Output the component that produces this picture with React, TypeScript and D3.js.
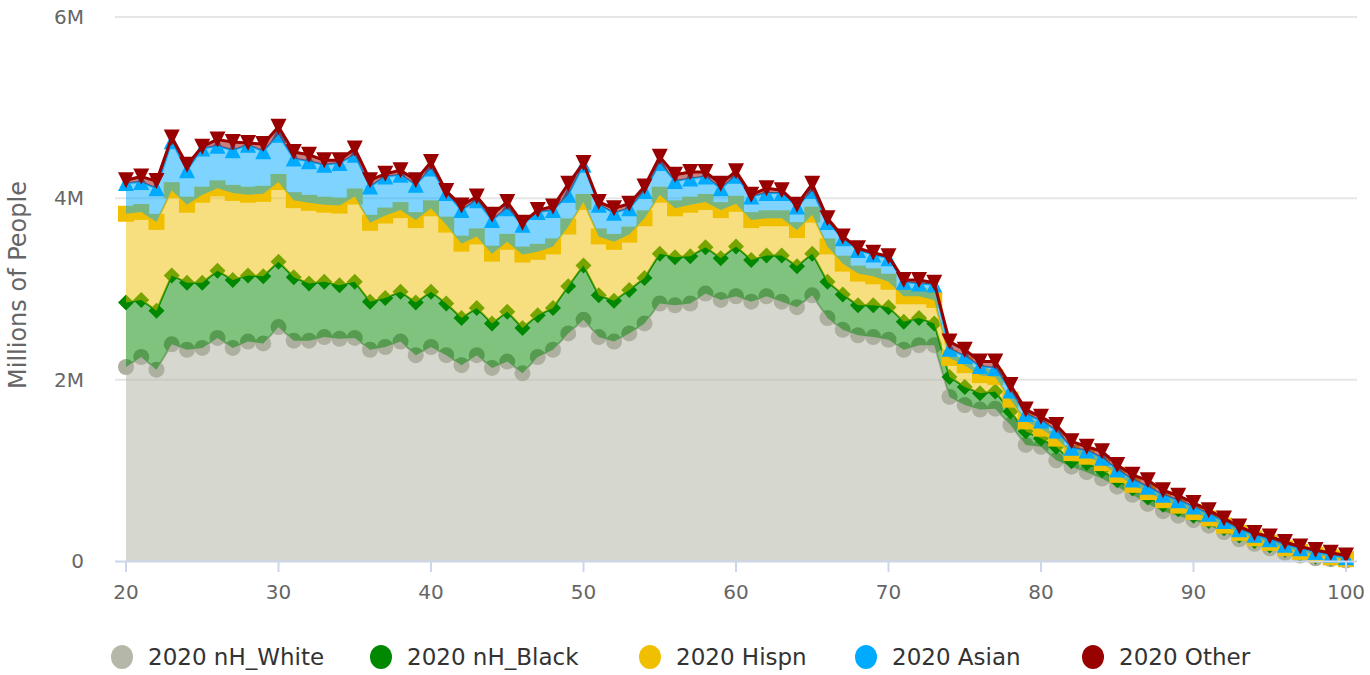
import React from "react";
import * as d3 from "d3";

const ages = [20,21,22,23,24,25,26,27,28,29,30,31,32,33,34,35,36,37,38,39,40,41,42,43,44,45,46,47,48,49,50,51,52,53,54,55,56,57,58,59,60,61,62,63,64,65,66,67,68,69,70,71,72,73,74,75,76,77,78,79,80,81,82,83,84,85,86,87,88,89,90,91,92,93,94,95,96,97,98,99,100];

// values in millions of people
const nhWhite = [2.14,2.25,2.11,2.39,2.33,2.35,2.46,2.35,2.42,2.40,2.58,2.43,2.43,2.47,2.45,2.46,2.33,2.36,2.42,2.27,2.36,2.27,2.16,2.27,2.13,2.20,2.07,2.25,2.33,2.51,2.66,2.47,2.42,2.51,2.62,2.84,2.82,2.84,2.95,2.88,2.92,2.86,2.92,2.86,2.80,2.93,2.68,2.55,2.49,2.47,2.44,2.33,2.38,2.38,1.81,1.72,1.67,1.68,1.50,1.28,1.26,1.11,1.04,0.98,0.91,0.82,0.73,0.63,0.55,0.50,0.45,0.39,0.32,0.24,0.19,0.14,0.09,0.06,0.03,0.02,0.005];
const nhBlack = [0.71,0.63,0.65,0.76,0.74,0.72,0.74,0.75,0.73,0.74,0.72,0.70,0.63,0.61,0.59,0.62,0.53,0.54,0.55,0.58,0.61,0.57,0.52,0.52,0.49,0.55,0.50,0.46,0.46,0.52,0.60,0.46,0.45,0.48,0.50,0.55,0.53,0.52,0.51,0.46,0.55,0.46,0.45,0.51,0.45,0.46,0.40,0.39,0.33,0.35,0.36,0.31,0.30,0.24,0.22,0.20,0.18,0.19,0.15,0.15,0.09,0.15,0.06,0.10,0.09,0.07,0.07,0.07,0.07,0.07,0.05,0.05,0.04,0.04,0.03,0.03,0.03,0.02,0.02,0.01,0.005];
const hispn = [0.98,0.97,0.98,0.94,0.86,0.97,0.91,0.96,0.89,0.91,0.88,0.85,0.89,0.85,0.88,0.94,0.87,0.91,0.90,0.91,0.92,0.87,0.82,0.79,0.77,0.77,0.81,0.70,0.68,0.66,0.70,0.65,0.65,0.61,0.66,0.65,0.54,0.57,0.50,0.53,0.47,0.44,0.41,0.41,0.40,0.43,0.39,0.34,0.35,0.32,0.28,0.28,0.24,0.26,0.21,0.24,0.20,0.16,0.13,0.11,0.11,0.09,0.09,0.07,0.08,0.06,0.04,0.06,0.05,0.04,0.04,0.03,0.03,0.03,0.03,0.03,0.02,0.02,0.02,0.01,0.01];
const asian = [0.34,0.33,0.37,0.54,0.38,0.51,0.47,0.47,0.55,0.47,0.52,0.46,0.46,0.44,0.47,0.46,0.40,0.43,0.39,0.39,0.44,0.35,0.37,0.40,0.37,0.37,0.33,0.44,0.40,0.35,0.41,0.35,0.32,0.29,0.30,0.35,0.30,0.29,0.28,0.24,0.31,0.26,0.28,0.28,0.26,0.26,0.27,0.28,0.26,0.24,0.26,0.16,0.14,0.17,0.10,0.10,0.10,0.10,0.10,0.08,0.09,0.09,0.06,0.07,0.06,0.06,0.06,0.06,0.06,0.06,0.06,0.05,0.05,0.04,0.04,0.04,0.04,0.04,0.03,0.03,0.02];
const other = [0.03,0.06,0.08,0.04,0.06,0.02,0.07,0.09,0.02,0.08,0.09,0.07,0.07,0.05,0.03,0.07,0.07,0.03,0.05,0.05,0.07,0.02,0.05,0.04,0.06,0.07,0.02,0.02,0.04,0.12,0.02,0.03,0.05,0.05,0.05,0.07,0.07,0.07,0.05,0.05,0.05,0.02,0.05,0.03,0.02,0.08,0.04,0.02,0.02,0.02,0.02,0.02,0.04,0.02,0.08,0.07,0.05,0.07,0.06,0.05,0.04,0.06,0.07,0.04,0.07,0.05,0.05,0.07,0.05,0.05,0.04,0.04,0.03,0.03,0.02,0.03,0.03,0.02,0.02,0.02,0.02];

const seriesNames = ["2020 nH_White", "2020 nH_Black", "2020 Hispn", "2020 Asian", "2020 Other"];
const seriesValues = [nhWhite, nhBlack, hispn, asian, other];
const seriesColors = ["#adaf9f", "#008800", "#f0c000", "#00aaff", "#990000"];
const legendColors = ["#b5b8a8", "#008800", "#f0c000", "#00aaff", "#990000"];
const seriesSymbols = ["circle", "diamond", "square", "triangle", "triangle-down"];
const yTicks = [0, 2, 4, 6];
const yTickLabels = ["0", "2M", "4M", "6M"];
const xTicks = [20, 30, 40, 50, 60, 70, 80, 90, 100];

const W = 1370, H = 675;
const plotL = 115, plotR = 1357, plotT = 17, plotB = 561;
const FONT = "'DejaVu Sans', 'Lucida Grande', Arial, sans-serif";

function symbolPath(kind: string, x: number, y: number, r: number) {
  switch (kind) {
    case "circle":
      return `M${x - r},${y}a${r},${r} 0 1,0 ${2 * r},0a${r},${r} 0 1,0 ${-2 * r},0Z`;
    case "diamond":
      return `M${x},${y - r}L${x + r},${y}L${x},${y + r}L${x - r},${y}Z`;
    case "square":
      return `M${x - r},${y - r}L${x + r},${y - r}L${x + r},${y + r}L${x - r},${y + r}Z`;
    case "triangle":
      return `M${x},${y - r}L${x + r},${y + r}L${x - r},${y + r}Z`;
    default:
      return `M${x - r},${y - r}L${x + r},${y - r}L${x},${y + r}Z`;
  }
}

export default function App() {
  const x = d3.scaleLinear().domain([20, 100]).range([126, 1346]);
  const y = d3.scaleLinear().domain([0, 6]).range([plotB, plotT]);

  const table = ages.map((a, i) => {
    const row: any = { age: a };
    seriesNames.forEach((n, k) => (row[n] = seriesValues[k][i]));
    return row;
  });
  const stacked = d3.stack().keys(seriesNames)(table);

  const area = d3
    .area<any>()
    .x((d) => x(d.data.age))
    .y0((d) => y(d[0]))
    .y1((d) => y(d[1]));
  const line = d3
    .line<any>()
    .x((d) => x(d.data.age))
    .y((d) => y(d[1]));

  return (
    <svg width={W} height={H} style={{ position: "absolute", left: 0, top: 0, fontFamily: FONT }}>
      <rect width={W} height={H} fill="#ffffff" />
      {yTicks.map((t) =>
        t === 0 ? null : (
          <line key={t} x1={plotL} x2={plotR} y1={y(t)} y2={y(t)} stroke="#e6e6e6" strokeWidth={2} />
        )
      )}
      {stacked.map((s, k) => (
        <g key={k}>
          <path d={area(s) || ""} fill={seriesColors[k]} fillOpacity={0.5} />
          <path d={line(s) || ""} fill="none" stroke={seriesColors[k]} strokeWidth={k === 4 ? 3 : 2} strokeLinejoin="round" />
          {s.map((d: any, i: number) => (
            <path key={i} d={symbolPath(seriesSymbols[k], x(d.data.age), y(d[1]), 8)} fill={seriesColors[k]} />
          ))}
        </g>
      ))}
      <line x1={plotL} x2={plotR} y1={plotB + 0.5} y2={plotB + 0.5} stroke="#ccd6eb" strokeWidth={2} />
      {xTicks.map((t) => (
        <g key={t}>
          <line x1={x(t)} x2={x(t)} y1={plotB} y2={plotB + 11} stroke="#ccd6eb" strokeWidth={2} />
          <text x={x(t)} y={599} textAnchor="middle" fontSize={20} fill="#666666">{t}</text>
        </g>
      ))}
      {yTicks.map((t, i) => (
        <text key={t} x={84} y={y(t) + 7} textAnchor="end" fontSize={20} fill="#666666">{yTickLabels[i]}</text>
      ))}
      <text transform={`translate(26,285) rotate(-90)`} textAnchor="middle" fontSize={24} fill="#666666">Millions of People</text>
      {seriesNames.map((n, k) => {
        const lx = [122, 381, 650, 866, 1093][k];
        return (
          <g key={n}>
            <ellipse cx={lx} cy={657} rx={11} ry={12} fill={legendColors[k]} />
            <text x={lx + 26} y={665} fontSize={23} fill="#333333">{n}</text>
          </g>
        );
      })}
    </svg>
  );
}
